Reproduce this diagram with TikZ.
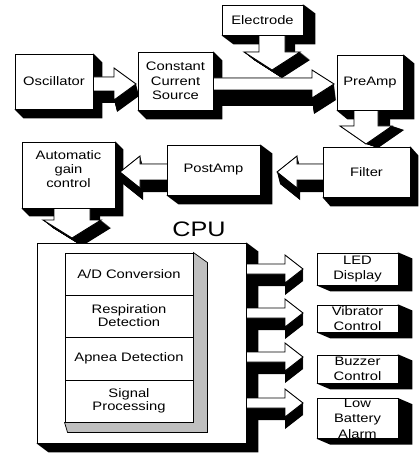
\documentclass[tikz,border=0pt]{standalone}
\usepackage{fontspec}
\setmainfont{Liberation Sans}[FakeStretch=1.2]
\pgfdeclarelayer{bshadow}
\pgfdeclarelayer{arrows}
\pgfsetlayers{bshadow,arrows,main}
% right-pointing block arrow: x-start, x-tip, cy, shaft half, head half, head length, dx, dy
\newcommand\arrR[8]{%
 \begin{pgfonlayer}{arrows}
 \foreach \k in {0,...,24}{\fill[black,shift={({\k*(#7)/24},{\k*(#8)/24})}] (#1,#3-#4) -- (#2-#6,#3-#4) -- (#2-#6,#3-#5) -- (#2,#3) -- (#2-#6,#3+#5) -- (#2-#6,#3+#4) -- (#1,#3+#4) -- cycle;}
 \fill[white] (#1,#3-#4) -- (#2-#6,#3-#4) -- (#2-#6,#3-#5) -- (#2,#3) -- (#2-#6,#3+#5) -- (#2-#6,#3+#4) -- (#1,#3+#4) -- cycle;
 \draw[arrline] (#1,#3-#4) -- (#2-#6,#3-#4) -- (#2-#6,#3-#5) -- (#2,#3) -- (#2-#6,#3+#5) -- (#2-#6,#3+#4) -- (#1,#3+#4);
 \end{pgfonlayer}}
% left-pointing block arrow
\newcommand\arrL[8]{%
 \begin{pgfonlayer}{arrows}
 \foreach \k in {0,...,24}{\fill[black,shift={({\k*(#7)/24},{\k*(#8)/24})}] (#1,#3-#4) -- (#2+#6,#3-#4) -- (#2+#6,#3-#5) -- (#2,#3) -- (#2+#6,#3+#5) -- (#2+#6,#3+#4) -- (#1,#3+#4) -- cycle;}
 \fill[white] (#1,#3-#4) -- (#2+#6,#3-#4) -- (#2+#6,#3-#5) -- (#2,#3) -- (#2+#6,#3+#5) -- (#2+#6,#3+#4) -- (#1,#3+#4) -- cycle;
 \draw[arrline] (#1,#3-#4) -- (#2+#6,#3-#4) -- (#2+#6,#3-#5) -- (#2,#3) -- (#2+#6,#3+#5) -- (#2+#6,#3+#4) -- (#1,#3+#4);
 \end{pgfonlayer}}
% down-pointing block arrow: y-start, y-tip, cx, shaft half, head half, head length, dx, dy
\newcommand\arrD[8]{%
 \begin{pgfonlayer}{arrows}
 \foreach \k in {0,...,24}{\fill[black,shift={({\k*(#7)/24},{\k*(#8)/24})}] (#3-#4,#1) -- (#3-#4,#2-#6) -- (#3-#5,#2-#6) -- (#3,#2) -- (#3+#5,#2-#6) -- (#3+#4,#2-#6) -- (#3+#4,#1) -- cycle;}
 \fill[white] (#3-#4,#1) -- (#3-#4,#2-#6) -- (#3-#5,#2-#6) -- (#3,#2) -- (#3+#5,#2-#6) -- (#3+#4,#2-#6) -- (#3+#4,#1) -- cycle;
 \draw[arrline] (#3-#4,#1) -- (#3-#4,#2-#6) -- (#3-#5,#2-#6) -- (#3,#2) -- (#3+#5,#2-#6) -- (#3+#4,#2-#6) -- (#3+#4,#1);
 \end{pgfonlayer}}
% extruded shadow of a box node
\newcommand\bshadow[3]{%
 \begin{pgfonlayer}{bshadow}
 \fill[black] (#1.north east) -- ([shift={(#2,#3)}]#1.north east) -- ([shift={(#2,#3)}]#1.south east) -- ([shift={(#2,#3)}]#1.south west) -- (#1.south west) -- cycle;
 \end{pgfonlayer}}
\begin{document}
\begin{tikzpicture}[x=1pt,y=-1pt,
  box/.style={draw=black,fill=white,line width=0.9pt,inner sep=0pt,align=center,font=\fontsize{12.3}{14.5}\selectfont},
  rowbox/.style={box,minimum width=128,font=\fontsize{12.3}{13}\selectfont},
  outbox/.style={box,minimum width=81,font=\fontsize{12.3}{15.5}\selectfont},
  arrline/.style={draw=black,line width=0.9pt,line join=miter}]
\useasboundingbox (0,0) rectangle (419,454);
\begin{pgfonlayer}{bshadow}\fill[white] (0,0) rectangle (419,454);\end{pgfonlayer}

% boxes
\node[box,minimum width=78,minimum height=55] (osc) at (54,81.5) {Oscillator};
\node[box,minimum width=75,minimum height=58] (ccs) at (175.5,81) {Constant\\Current\\Source};
\node[box,minimum width=81,minimum height=30] (elec) at (262.5,20) {Electrode};
\node[box,minimum width=66,minimum height=55] (pre) at (370,82.5) {PreAmp};
\node[box,minimum width=87,minimum height=50] (filt) at (366.5,172) {Filter};
\node[box,minimum width=93,minimum height=50] (post) at (213.5,170) {PostAmp};
\node[box,minimum width=93,minimum height=66] (agc) at (68.5,175) {};
\node[align=center,inner sep=0pt,font=\fontsize{12.3}{14}\selectfont] (agct) at (68.5,169) {Automatic\\gain\\control};
\node[box,minimum width=209,minimum height=200] (cpu) at (141.5,343) {};
\node[inner sep=0pt,font=\fontsize{21}{21}\selectfont] (cpul) at (199,229.5) {CPU};

% CPU internal stack
\node[rowbox,minimum height=42] (ad) at (129,274) {A/D Conversion};
\node[rowbox,minimum height=42] (resp) at (129,316) {Respiration\\Detection};
\node[rowbox,minimum height=43] (apnea) at (129,358.5) {Apnea Detection};
\node[rowbox,minimum height=42] (sig) at (129,401) {Signal\\Processing};
\filldraw[fill=gray!50,draw=black,line width=0.7pt] (ad.north east) -- ([shift={(14,10)}]ad.north east) -- ([shift={(14,10)}]sig.south east) -- ([shift={(3,10)}]sig.south west) -- (sig.south west) -- (sig.south east) -- cycle;

% output boxes
\node[outbox,minimum height=32] (led) at (357.5,269) {LED\\Display};
\node[outbox,minimum height=27] (vib) at (357.5,318.5) {Vibrator\\Control};
\node[outbox,minimum height=28] (buz) at (357.5,369) {Buzzer\\Control};
\node[outbox,minimum height=37] (low) at (357.5,418.5) {Low\\Battery\\Alarm};

% shadows
\bshadow{osc}{9}{9}
\bshadow{ccs}{9}{9}
\bshadow{elec}{12}{9}
\bshadow{pre}{11}{9}
\bshadow{filt}{8}{9}
\bshadow{post}{12}{9}
\bshadow{agc}{8}{8}
\bshadow{cpu}{12}{9}
\bshadow{led}{14}{6}
\bshadow{vib}{14}{6}
\bshadow{buz}{14}{6}
\bshadow{low}{14}{6}

% block arrows
\arrD{35}{70}{272}{13}{28}{18}{10}{8}
\arrR{93}{136}{84}{7}{16}{22}{3}{12}
\arrR{213}{334}{84}{6}{14}{22}{2}{16}
\arrD{110}{144}{366}{12}{26}{18}{12}{4}
\arrL{323}{277}{172}{8}{16}{20}{3}{12}
\arrL{167}{120}{172}{8}{16}{20}{3}{12}
\arrD{208}{238}{72}{18}{29}{18}{10}{8}
\arrR{246}{303}{269}{5}{14}{18}{0}{12}
\arrR{246}{303}{313}{5}{14}{18}{0}{12}
\arrR{246}{303}{357}{5}{14}{18}{0}{12}
\arrR{246}{303}{403}{5}{14}{18}{0}{12}
\end{tikzpicture}
\end{document}
